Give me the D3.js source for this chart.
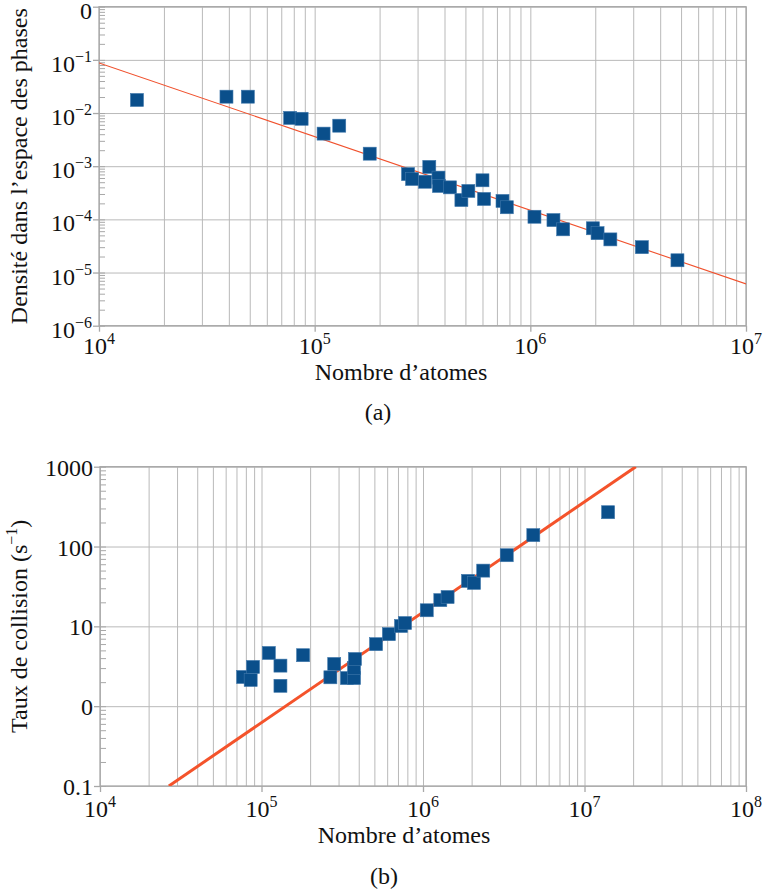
<!DOCTYPE html>
<html><head><meta charset="utf-8">
<script src="https://cdn.jsdelivr.net/npm/d3@7"></script>
<style>body{margin:0;background:#fff}svg{display:block}</style>
</head><body>
<script>
// ---- Data (a) ----
const topX = [1.5e4, 3.9e4, 4.9e4, 7.7e4, 8.7e4, 1.1e5, 1.3e5, 1.8e5, 2.71e5, 2.83e5, 3.4e5, 3.25e5, 3.75e5, 3.77e5, 4.24e5, 4.79e5, 5.16e5, 6.0e5, 6.1e5, 7.43e5, 7.78e5, 1.045e6, 1.28e6, 1.42e6, 1.95e6, 2.05e6, 2.35e6, 3.29e6, 4.81e6];
const topY = [0.0176, 0.0203, 0.0203, 0.0081, 0.0078, 0.0041, 0.00578, 0.00172, 7.1e-4, 5.75e-4, 9.7e-4, 5.1e-4, 6.1e-4, 4.25e-4, 4.0e-4, 2.31e-4, 3.42e-4, 5.43e-4, 2.42e-4, 2.22e-4, 1.69e-4, 1.12e-4, 9.7e-5, 6.5e-5, 6.8e-5, 5.5e-5, 4.2e-5, 3.0e-5, 1.7e-5];
const topFitX = [1e4, 1e7];
const topFitY = [0.0877, 6.1e-6];
const topXTicks = [1e4, 1e5, 1e6, 1e7];
const topXTickLabels = [["10","4"],["10","5"],["10","6"],["10","7"]];
const topYTicks = [1, 1e-1, 1e-2, 1e-3, 1e-4, 1e-5, 1e-6];
const topYTickLabels = [["0",""],["10","−1"],["10","−2"],["10","−3"],["10","−4"],["10","−5"],["10","−6"]];

// ---- Data (b) ----
const botX = [7.7e4, 8.57e4, 8.86e4, 1.11e5, 1.31e5, 1.31e5, 1.81e5, 2.67e5, 2.82e5, 3.38e5, 3.74e5, 3.74e5, 3.79e5, 5.12e5, 6.15e5, 7.31e5, 7.74e5, 1.055e6, 1.28e6, 1.42e6, 1.90e6, 2.07e6, 2.36e6, 3.30e6, 4.82e6, 1.40e7];
const botY = [2.32, 2.13, 3.10, 4.64, 3.22, 1.80, 4.35, 2.30, 3.38, 2.25, 2.25, 3.01, 3.90, 5.98, 7.98, 10.1, 11.0, 15.9, 21.3, 23.3, 37.1, 35.0, 49.9, 77.8, 139, 269];
const botFitX = [2.67e4, 2.08e7];
const botFitY = [0.1, 1000];
const botXTicks = [1e4, 1e5, 1e6, 1e7, 1e8];
const botXTickLabels = [["10","4"],["10","5"],["10","6"],["10","7"],["10","8"]];
const botYTicks = [0.1, 1, 10, 100, 1000];
const botYTickLabels = [["0.1",""],["0",""],["10",""],["100",""],["1000",""]];

const FONT = "'Liberation Serif', 'DejaVu Serif', 'Times New Roman', Times, serif";
const W = 763, H = 895;
const svg = d3.select("body").append("svg").attr("width", W).attr("height", H)
  .style("font-family", FONT).attr("font-family", FONT);

function minors(lo, hi) {
  const out = [];
  for (let e = Math.round(Math.log10(lo)); e < Math.round(Math.log10(hi)); e++)
    for (let k = 1; k <= 9; k++) out.push(k * Math.pow(10, e));
  out.push(hi);
  return out;
}

function txt(sel) {
  return sel.append("text").attr("font-family", FONT).style("font-family", FONT).attr("fill", "#111");
}

function panel(cfg) {
  const {id, left, top, right, bottom, xDom, yDom, xs, ys, fx, fy, xTicks, xLabels, yTicks, yLabels,
         fitColor, fitWidth, yTitle, xTitleX, xTitleY, capText, capX, capY, yLabDy, xLabDy} = cfg;
  const g = svg.append("g");
  const x = d3.scaleLog().domain(xDom).range([left, right]);
  const y = d3.scaleLog().domain(yDom).range([bottom, top]);

  g.append("clipPath").attr("id", id).append("rect")
    .attr("x", left).attr("y", top).attr("width", right - left).attr("height", bottom - top);

  g.append("g").attr("transform", `translate(0,${bottom})`)
    .call(d3.axisBottom(x).tickValues(minors(xDom[0], xDom[1])).tickSize(-(bottom - top)).tickFormat(""))
    .call(a => a.select(".domain").remove())
    .call(a => a.selectAll("line").attr("stroke", "#b9b9b9").attr("stroke-width", 1));
  g.append("g").attr("transform", `translate(${left},0)`)
    .call(d3.axisLeft(y).tickValues(yTicks).tickSize(-(right - left)).tickFormat(""))
    .call(a => a.select(".domain").remove())
    .call(a => a.selectAll("line").attr("stroke", "#b9b9b9").attr("stroke-width", 1));
  g.append("g").attr("transform", `translate(${left},0)`)
    .call(d3.axisRight(y).tickValues(minors(yDom[0], yDom[1])).tickSize(6).tickFormat(""))
    .call(a => a.select(".domain").remove())
    .call(a => a.selectAll("line").attr("stroke", "#a8a8a8"));
  g.append("rect").attr("x", left).attr("y", top).attr("width", right - left).attr("height", bottom - top)
    .attr("fill", "none").attr("stroke", "#a8a8a8").attr("stroke-width", 1.3);
  g.append("g").attr("transform", `translate(0,${bottom})`)
    .call(d3.axisBottom(x).tickValues(xTicks).tickSize(6).tickFormat(""))
    .call(a => a.select(".domain").remove())
    .call(a => a.selectAll("line").attr("stroke", "#a8a8a8").attr("stroke-width", 1.3));
  g.append("g").attr("transform", `translate(${left},0)`)
    .call(d3.axisLeft(y).tickValues(yTicks).tickSize(6).tickFormat(""))
    .call(a => a.select(".domain").remove())
    .call(a => a.selectAll("line").attr("stroke", "#a8a8a8").attr("stroke-width", 1.3));

  xTicks.forEach((v, i) => {
    const t = txt(g).attr("x", x(v)).attr("y", bottom + xLabDy)
      .attr("text-anchor", "middle").attr("font-size", 24);
    t.append("tspan").text(xLabels[i][0]);
    if (xLabels[i][1]) t.append("tspan").attr("dy", -10).attr("font-size", 16).text(xLabels[i][1]);
  });
  yTicks.forEach((v, i) => {
    const t = txt(g).attr("x", left - 7).attr("y", y(v) + yLabDy)
      .attr("text-anchor", "end").attr("font-size", 24);
    t.append("tspan").text(yLabels[i][0]);
    if (yLabels[i][1]) t.append("tspan").attr("dy", -10).attr("font-size", 16).text(yLabels[i][1]);
  });

  const line = d3.line().x(d => x(d[0])).y(d => y(d[1]));
  g.append("path").attr("clip-path", `url(#${id})`)
    .datum(fx.map((v, i) => [v, fy[i]]))
    .attr("d", line).attr("fill", "none").attr("stroke", fitColor).attr("stroke-width", fitWidth);

  const s = 13;
  g.append("g").selectAll("rect").data(xs.map((v, i) => [v, ys[i]])).join("rect")
    .attr("x", d => x(d[0]) - s / 2).attr("y", d => y(d[1]) - s / 2)
    .attr("width", s).attr("height", s)
    .attr("fill", "#0a4f8b").attr("stroke", "#3f77ab").attr("stroke-width", 0.6);

  const yt = txt(g).attr("transform", `translate(27,${(top + bottom) / 2}) rotate(-90)`)
    .attr("text-anchor", "middle").attr("font-size", 24);
  yTitle.forEach(p => {
    const ts = yt.append("tspan").text(p.t);
    if (p.sup) ts.attr("dy", -10).attr("font-size", 16);
    if (p.down) ts.attr("dy", 10);
  });
  txt(g).attr("x", xTitleX).attr("y", xTitleY).attr("text-anchor", "middle")
    .attr("font-size", 24).text("Nombre d’atomes");
  txt(g).attr("x", capX).attr("y", capY).attr("text-anchor", "middle")
    .attr("font-size", 24).text(capText);
}

panel({id: "clipA", left: 99, top: 6.7, right: 746, bottom: 325.7, xDom: [1e4, 1e7], yDom: [1e-6, 1],
  xs: topX, ys: topY, fx: topFitX, fy: topFitY, xTicks: topXTicks, xLabels: topXTickLabels,
  yTicks: topYTicks, yLabels: topYTickLabels, fitColor: "#f0512d", fitWidth: 1.1,
  yTitle: [{t: "Densité dans l’espace des phases"}], xTitleX: 401, xTitleY: 380,
  capText: "(a)", capX: 378, capY: 420, yLabDy: 12, xLabDy: 28});

panel({id: "clipB", left: 100, top: 466.7, right: 746, bottom: 786, xDom: [1e4, 1e8], yDom: [0.1, 1000],
  xs: botX, ys: botY, fx: botFitX, fy: botFitY, xTicks: botXTicks, xLabels: botXTickLabels,
  yTicks: botYTicks, yLabels: botYTickLabels, fitColor: "#f4532b", fitWidth: 3,
  yTitle: [{t: "Taux de collision (s"}, {t: "−1", sup: true}, {t: ")", down: true}], xTitleX: 404, xTitleY: 843,
  capText: "(b)", capX: 384, capY: 884, yLabDy: 9, xLabDy: 31});
</script>
</body></html>
